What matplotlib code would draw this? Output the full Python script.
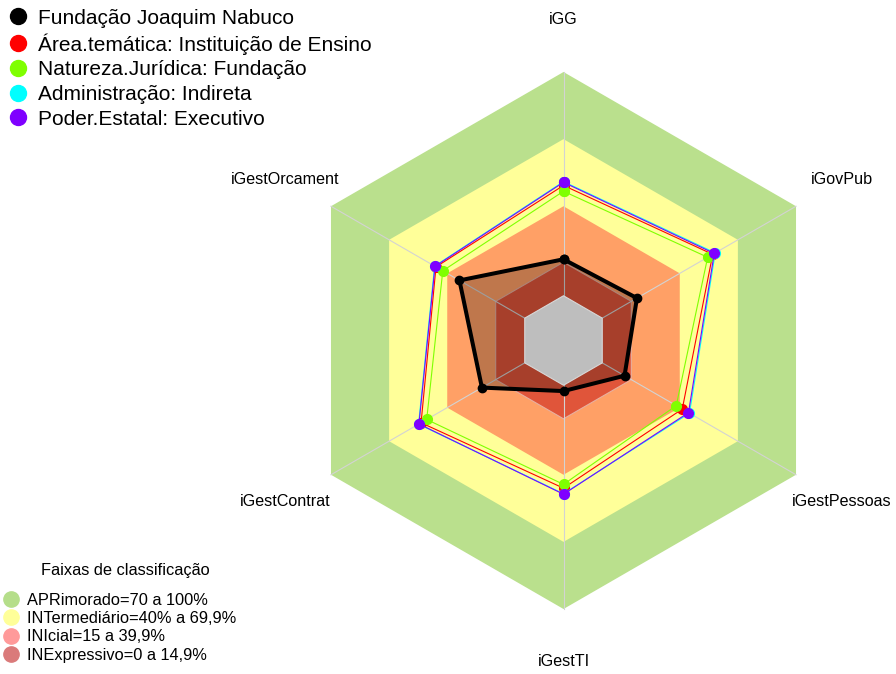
import numpy as np
import matplotlib
matplotlib.use("Agg")
import matplotlib.pyplot as plt
from matplotlib.lines import Line2D

plt.rcParams['font.family'] = ['Liberation Sans', 'DejaVu Sans']

categories = ["iGG", "iGovPub", "iGestPessoas", "iGestTI", "iGestContrat", "iGestOrcament"]

series_names = ["Fundação Joaquim Nabuco",
                "Área.temática: Instituição de Ensino",
                "Natureza.Jurídica: Fundação",
                "Administração: Indireta",
                "Poder.Estatal: Executivo"]
fjn = [16.3, 17.9, 11.5, 2.6, 22.1, 33.7]
area_tematica = [49.3, 57.0, 41.3, 46.0, 53.5, 45.8]
natureza = [46.7, 54.4, 38.2, 44.3, 50.6, 42.3]
administracao = [51.0, 58.3, 45.0, 48.5, 54.8, 46.5]
poder = [50.7, 57.8, 44.5, 48.7, 54.6, 46.3]
series_colors = ["#000000", "#FF0000", "#7FFF00", "#00FFFF", "#7F00FF"]

band_limits = [100, 70, 40, 15, 0]
band_colors = ["#BAE08D", "#FFFF99", "#FFA066", "#E0553A", "#BEBEBE"]
band_edges = ["none", "none", "none", "#E8B0A0", "#D8D8D8"]
legend_title = "Faixas de classificação"
band_labels = ["APRimorado=70 a 100%", "INTermediário=40% a 69,9%",
               "INIcial=15 a 39,9%", "INExpressivo=0 a 14,9%"]
band_legend_colors = ["#B5DE8A", "#FFFF99", "#FF9A9A", "#DA7A7A"]

W, H = 896, 674
fig = plt.figure(figsize=(W / 100, H / 100), dpi=100)
cx, cy, R = 563.5, 674 - 340.5, 268.5
ax = fig.add_axes([(cx - R) / W, (cy - R) / H, 2 * R / W, 2 * R / H], projection='polar')
ax.set_theta_offset(np.pi / 2)
ax.set_theta_direction(-1)
ax.set_ylim(0, 100)
ax.set_rorigin(-20)
ax.axis('off')

n = len(categories)
theta = np.arange(n) * 2 * np.pi / n
theta_c = np.append(theta, theta[0])

def closed(v):
    return np.append(np.asarray(v, float), v[0])

# bands
for lim, col, ec in zip(band_limits[:-1], band_colors[:-1], band_edges[:-1]):
    ax.fill(theta_c, closed([lim] * n), fc=col, lw=0.8, ec=ec, zorder=1, clip_on=False)
# spokes
for t in theta:
    ax.plot([t, t], [0, 100], color="#D3D3D3", lw=0.8, zorder=2, clip_on=False)

# series (black first, then others)
all_series = [fjn, area_tematica, natureza, administracao, poder]
for i, (vals, col) in enumerate(zip(all_series, series_colors)):
    if i == 0:
        ax.fill(theta_c, closed(vals), color="black", alpha=0.25, lw=0, zorder=3, clip_on=False)
        ax.plot(theta_c, closed(vals), color=col, lw=2.9, marker='o', ms=6, zorder=6, clip_on=False)
    else:
        ax.plot(theta_c, closed(vals), color=col, lw=0.8, marker='o', ms=7,
                zorder=4 + i * 0.1, clip_on=False)

# grey centre hole
ax.fill(theta_c, closed([band_limits[-1]] * n), fc=band_colors[-1], lw=0.8,
        ec=band_edges[-1], zorder=5, clip_on=False)

# axis labels
for t, lab in zip(theta, categories):
    ax.text(t, 123.5, lab, ha='center', va='center', fontsize=11.6, clip_on=False)

# top legend
h1 = [Line2D([], [], ls='none', marker='o', ms=11.5, color=c) for c in series_colors]
leg1 = fig.legend(h1, series_names, loc='upper left', bbox_to_anchor=(-0.0062, 1.0088),
                  frameon=False, fontsize=15, handlelength=0.9, handletextpad=0.5,
                  labelspacing=0.27, borderaxespad=0.3)

# bottom legend
h2 = [Line2D([], [], ls='none', marker='o', ms=11, color=c) for c in band_legend_colors]
leg2 = fig.legend(h2, band_labels, loc='lower left', bbox_to_anchor=(-0.0096, 0.0),
                  frameon=False, fontsize=11.8, handlelength=1.0, handletextpad=0.5,
                  labelspacing=0.2, borderaxespad=0.3)
fig.text(125 / W, 1 - 571 / H, legend_title, ha='center', va='center', fontsize=11.8)

fig.savefig("out.png", dpi=100)
